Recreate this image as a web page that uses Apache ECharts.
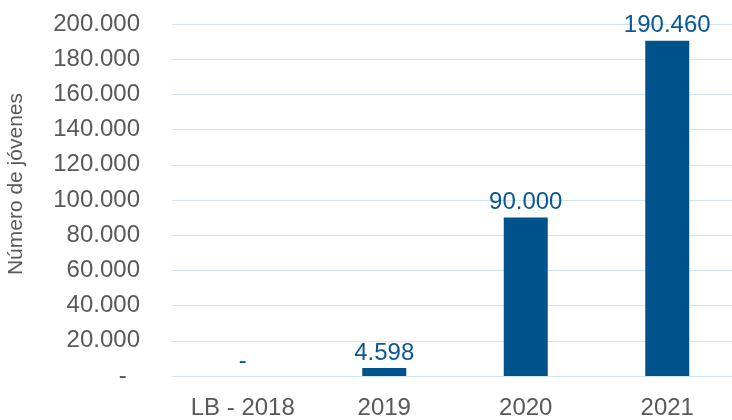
<!DOCTYPE html>
<html>
<head>
<meta charset="utf-8">
<script src="https://cdn.jsdelivr.net/npm/echarts@6/dist/echarts.min.js"></script>
<style>html,body{margin:0;padding:0;background:#fff;overflow:hidden;width:732px;height:420px;}#c{width:750px;height:420px;}</style>
</head>
<body>
<div id="c"></div>
<script>
const categories = ['LB - 2018', '2019', '2020', '2021'];
const values = [0, 4598, 90000, 190460];
const axisName = 'Número de jóvenes';
const yMin = 0, yMax = 200000, yInterval = 20000;

function fmt(v) {
  if (v === 0) return '-';
  return String(Math.round(v)).replace(/\B(?=(\d{3})+(?!\d))/g, '.');
}

const chart = echarts.init(document.getElementById('c'), null, {renderer: 'canvas'});
const font = '"Liberation Sans", Arial, Helvetica, sans-serif';
chart.setOption({
  animation: false,
  backgroundColor: '#ffffff',
  grid: {left: 172, top: 24, right: 12, bottom: 41},
  xAxis: {
    type: 'category',
    data: categories,
    axisLine: {show: true, lineStyle: {color: '#cfe6f5', width: 1}},
    axisTick: {show: false},
    axisLabel: {color: '#595959', fontSize: 24, fontFamily: font, margin: 20}
  },
  yAxis: {
    type: 'value',
    min: yMin, max: yMax, interval: yInterval,
    axisLine: {show: false},
    axisTick: {show: false},
    splitLine: {lineStyle: {color: '#cfe6f5', width: 1}},
    axisLabel: {
      color: '#595959', fontSize: 24, fontFamily: font, margin: 32,
      formatter: v => v === 0 ? '-  ' : fmt(v)
    }
  },
  graphic: [{
    type: 'text',
    left: 6, top: 93,
    rotation: Math.PI / 2,
    style: {text: axisName, fill: '#595959', font: '21px ' + font}
  }],
  series: [{
    type: 'bar',
    data: values,
    barWidth: 44,
    itemStyle: {color: '#00528A'},
    label: {
      show: true, position: 'top', distance: 3,
      color: '#0B5796', fontSize: 24, fontFamily: font,
      formatter: p => fmt(p.value)
    }
  }]
});
</script>
</body>
</html>
